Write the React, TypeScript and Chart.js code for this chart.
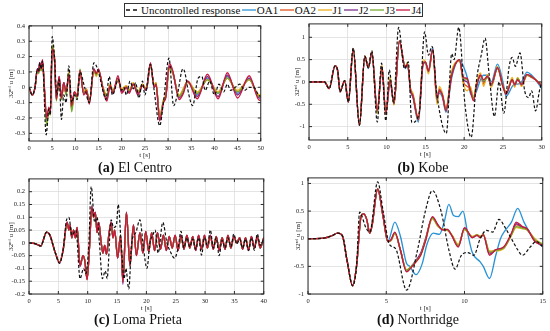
import React, { useEffect, useRef } from 'react';
import { Chart, registerables } from 'chart.js';

Chart.register(...registerables);

const SERIES = ['Uncontrolled response', 'OA1', 'OA2', 'J1', 'J2', 'J3', 'J4'];
const COLORS = ['#111111', '#2a93d5', '#e2531e', '#eeb120', '#7e2f8e', '#77ac30', '#c8183e'];
const DRAW_ORDER = [0, 6, 5, 4, 3, 2, 1];

// ---------- (a) El Centro ----------
const aXTicks = [0, 5, 10, 15, 20, 25, 30, 35, 40, 45, 50];
const aYTicks = [-0.3, -0.2, -0.1, 0, 0.1, 0.2, 0.3, 0.4];
const aT = [0, 0.7, 1.3, 1.8, 2.1, 2.3, 2.6, 2.9, 3.4, 3.8, 4.3, 4.6, 5.0, 5.5, 5.9, 6.5, 7.0, 7.5, 8.0, 8.6, 9.2, 9.8, 10.4, 11.0, 11.8, 12.4, 13.0, 14.0, 14.5, 15.0, 16.0, 16.8, 17.5, 18.1, 19.2, 20.0, 21.0, 21.6, 22.5, 23.5, 24.5, 25.3, 26.2, 27.0, 27.4, 28.2, 29.0, 29.5, 30.3, 31.0, 32.4, 33.3, 34.2, 36.3, 38.5, 40.8, 42.8, 45.0, 47.5, 49.7, 50];
const aJ4 = [0, -0.05, 0.0, 0.12, 0.1, 0.16, 0.12, 0.18, -0.04, -0.2, -0.13, -0.17, 0.25, 0.18, -0.08, 0.07, -0.07, 0.03, -0.03, 0.08, -0.12, -0.03, -0.06, 0.11, -0.05, -0.02, -0.11, 0.12, 0.09, 0.12, -0.02, -0.09, 0.01, -0.04, 0.075, -0.04, 0.0, -0.04, 0.02, -0.05, 0.01, -0.02, 0.16, 0.0, 0.02, -0.22, -0.1, -0.07, 0.155, 0.11, -0.08, -0.04, 0.04, -0.075, 0.085, -0.075, 0.095, -0.07, 0.075, -0.085, -0.08];
const aJ3 = [0, -0.05, 0.0, 0.11, 0.09, 0.15, 0.11, 0.16, -0.06, -0.25, -0.15, -0.18, 0.27, 0.19, -0.09, 0.06, -0.08, 0.02, -0.05, 0.09, -0.16, -0.04, -0.07, 0.12, -0.04, -0.02, -0.1, 0.11, 0.08, 0.11, -0.01, -0.06, 0.01, -0.03, 0.05, -0.02, 0.0, -0.02, 0.02, -0.03, 0.01, -0.01, 0.15, 0.01, 0.02, -0.19, -0.09, -0.06, 0.12, 0.1, -0.06, -0.02, 0.03, -0.04, 0.05, -0.04, 0.06, -0.03, 0.05, -0.06, -0.06];
const aOA2 = [0, -0.05, 0.0, 0.11, 0.1, 0.15, 0.11, 0.17, -0.05, -0.23, -0.14, -0.17, 0.26, 0.19, -0.07, 0.06, -0.07, 0.03, -0.04, 0.09, -0.14, -0.03, -0.05, 0.11, -0.04, -0.01, -0.1, 0.11, 0.08, 0.11, -0.01, -0.06, 0.02, -0.03, 0.05, -0.02, 0.01, -0.02, 0.02, -0.03, 0.02, -0.01, 0.15, 0.01, 0.03, -0.2, -0.09, -0.05, 0.13, 0.1, -0.06, -0.01, 0.04, -0.04, 0.05, -0.03, 0.06, -0.03, 0.05, -0.06, -0.05];
const aJ1 = [0, -0.05, 0.0, 0.11, 0.1, 0.15, 0.11, 0.17, -0.06, -0.24, -0.14, -0.18, 0.27, 0.2, -0.06, 0.05, -0.08, 0.02, -0.04, 0.1, -0.15, -0.03, -0.05, 0.11, -0.03, -0.01, -0.09, 0.11, 0.07, 0.1, 0.0, -0.05, 0.02, -0.02, 0.05, -0.01, 0.01, -0.02, 0.03, -0.03, 0.02, -0.01, 0.14, 0.02, 0.03, -0.19, -0.08, -0.05, 0.12, 0.09, -0.05, -0.01, 0.04, -0.03, 0.05, -0.03, 0.06, -0.02, 0.05, -0.05, -0.05];
const aJ2 = [0, -0.05, 0.0, 0.12, 0.1, 0.16, 0.12, 0.17, -0.05, -0.22, -0.14, -0.17, 0.25, 0.18, -0.08, 0.07, -0.07, 0.03, -0.04, 0.08, -0.13, -0.03, -0.06, 0.11, -0.04, -0.02, -0.1, 0.12, 0.09, 0.11, -0.01, -0.07, 0.01, -0.03, 0.06, -0.03, 0.0, -0.03, 0.02, -0.04, 0.01, -0.02, 0.15, 0.0, 0.02, -0.21, -0.1, -0.06, 0.14, 0.1, -0.07, -0.03, 0.04, -0.06, 0.07, -0.06, 0.08, -0.05, 0.06, -0.07, -0.07];
const aOA1 = [0, -0.05, 0.0, 0.12, 0.1, 0.16, 0.12, 0.17, -0.05, -0.23, -0.14, -0.17, 0.26, 0.18, -0.07, 0.06, -0.07, 0.03, -0.04, 0.08, -0.14, -0.03, -0.06, 0.11, -0.04, -0.02, -0.1, 0.11, 0.09, 0.11, -0.01, -0.06, 0.01, -0.03, 0.06, -0.03, 0.0, -0.03, 0.02, -0.04, 0.01, -0.02, 0.15, 0.0, 0.02, -0.2, -0.09, -0.06, 0.13, 0.1, -0.06, -0.02, 0.04, -0.05, 0.06, -0.04, 0.07, -0.04, 0.06, -0.06, -0.06];
const aTu = [0, 0.7, 1.3, 1.8, 2.1, 2.3, 2.6, 2.9, 3.7, 4.3, 4.6, 5.0, 5.5, 6.0, 6.5, 7.0, 7.5, 8.0, 8.6, 9.2, 9.8, 10.4, 11.0, 12.0, 13.0, 14.0, 15.0, 16.0, 16.6, 17.3, 18.0, 19.3, 20.0, 20.5, 21.0, 21.8, 22.5, 23.0, 23.7, 24.5, 25.0, 26.2, 27.0, 28.2, 29.0, 30.2, 31.2, 32.0, 33.2, 33.6, 34.5, 35.3, 36.5, 37.3, 38.0, 39.0, 40.0, 41.0, 42.0, 42.8, 43.5, 44.5, 45.5, 46.5, 47.5, 48.5, 49.5, 50];
const aUnc = [0, -0.05, 0.0, 0.12, 0.1, 0.16, 0.12, 0.17, -0.31, -0.14, -0.18, 0.33, 0.2, -0.05, 0.05, -0.21, -0.05, -0.1, 0.14, -0.1, -0.05, -0.08, 0.1, 0.0, -0.1, 0.16, 0.1, -0.03, -0.08, 0.07, -0.05, 0.05, -0.02, 0.0, -0.05, 0.04, -0.01, 0.03, -0.07, 0.04, -0.05, 0.15, -0.02, -0.25, -0.1, 0.19, -0.12, -0.05, 0.12, 0.1, -0.05, -0.12, 0.06, 0.07, -0.02, 0.04, -0.05, 0.02, -0.03, 0.02, -0.02, 0.0, 0.02, -0.02, 0.0, 0.0, -0.05, -0.06];

// ---------- (b) Kobe ----------
const bXTicks = [0, 5, 10, 15, 20, 25, 30];
const bYTicks = [-1, -0.5, 0, 0.5, 1];
const bT = [0, 2.0, 2.6, 3.35, 3.7, 4.0, 4.6, 5.07, 5.7, 6.5, 7.2, 7.65, 8.1, 8.8, 9.4, 9.9, 10.45, 10.95, 11.65, 12.4, 12.7, 13.1, 13.4, 14.1, 14.7, 15.0, 15.4, 15.95, 16.5, 16.8, 17.2, 17.65, 18.4, 19.4, 19.9, 20.4, 20.8, 21.2, 21.6, 22.1, 22.5, 23.0, 23.5, 24.3, 25.0, 25.4, 26.2, 26.5, 26.9, 27.4, 28.1, 28.7, 29.2, 30];
const bJ4 = [0, 0, -0.15, 0.36, 0.25, -0.22, 0.03, -0.45, 0.74, -0.97, 0.58, 0.32, 0.66, -0.63, 0.33, -0.7, 0.03, -0.48, 0.92, 0.32, 0.4, -0.2, -0.33, -0.85, 0.4, 0.45, 0.25, 0.73, -0.35, -0.2, -0.3, -0.65, 0.15, 0.5, 0.1, 0.08, -0.2, -0.42, -0.1, 0.15, 0.05, 0.12, -0.05, 0.32, -0.1, -0.28, 0.05, -0.05, 0.05, -0.05, 0.17, 0.12, 0.05, -0.1];
const bOA1 = [0, 0, -0.15, 0.36, 0.25, -0.22, 0.03, -0.45, 0.74, -0.97, 0.57, 0.3, 0.65, -0.68, 0.3, -0.72, 0.0, -0.5, 0.9, 0.3, 0.38, -0.22, -0.35, -0.9, 0.38, 0.44, 0.27, 0.78, -0.4, -0.25, -0.35, -0.68, 0.1, 0.5, 0.35, 0.1, -0.25, -0.33, -0.2, 0.05, 0.15, 0.15, 0.0, 0.4, 0.0, -0.32, -0.1, -0.05, -0.05, 0.0, 0.22, 0.15, 0.05, -0.15];
const bOA2 = [0, 0, -0.15, 0.36, 0.25, -0.22, 0.03, -0.45, 0.74, -0.97, 0.58, 0.32, 0.66, -0.68, 0.35, -0.72, 0.08, -0.5, 0.92, 0.33, 0.42, -0.18, -0.3, -0.85, 0.45, 0.45, 0.22, 0.72, -0.45, -0.15, -0.3, -0.6, 0.2, 0.48, 0.0, -0.1, -0.15, -0.35, -0.05, 0.15, -0.05, 0.15, -0.08, 0.3, -0.1, -0.22, 0.05, -0.1, 0.08, -0.08, 0.15, 0.1, 0.05, -0.08];
const bJ1 = [0, 0, -0.15, 0.36, 0.25, -0.22, 0.03, -0.45, 0.74, -0.97, 0.58, 0.33, 0.67, -0.7, 0.38, -0.73, 0.12, -0.52, 0.92, 0.35, 0.43, -0.15, -0.25, -0.82, 0.5, 0.45, 0.18, 0.72, -0.5, -0.1, -0.25, -0.58, 0.25, 0.47, -0.05, -0.2, -0.1, -0.35, 0.0, 0.2, -0.1, 0.17, -0.12, 0.35, -0.12, -0.25, 0.1, -0.12, 0.1, -0.1, 0.15, 0.1, 0.05, -0.05];
const bJ2 = [0, 0, -0.15, 0.36, 0.25, -0.22, 0.03, -0.45, 0.74, -0.97, 0.58, 0.32, 0.66, -0.66, 0.34, -0.71, 0.05, -0.49, 0.92, 0.33, 0.41, -0.19, -0.3, -0.84, 0.42, 0.44, 0.24, 0.73, -0.4, -0.18, -0.3, -0.62, 0.18, 0.49, 0.05, 0.0, -0.18, -0.38, -0.08, 0.15, 0.0, 0.13, -0.07, 0.32, -0.1, -0.26, 0.05, -0.07, 0.06, -0.06, 0.16, 0.11, 0.05, -0.08];
const bJ3 = [0, 0, -0.15, 0.36, 0.25, -0.22, 0.03, -0.45, 0.74, -0.97, 0.58, 0.32, 0.66, -0.65, 0.34, -0.7, 0.05, -0.49, 0.92, 0.33, 0.41, -0.2, -0.32, -0.85, 0.42, 0.44, 0.25, 0.72, -0.38, -0.2, -0.3, -0.63, 0.17, 0.5, 0.08, 0.05, -0.18, -0.38, -0.08, 0.13, 0.02, 0.1, -0.06, 0.3, -0.08, -0.25, 0.05, -0.05, 0.08, -0.05, 0.15, 0.12, 0.05, -0.1];
const bTu = [0, 2.0, 2.6, 3.35, 3.7, 4.0, 4.6, 5.07, 5.7, 6.5, 7.2, 7.65, 8.1, 8.8, 9.35, 9.9, 10.35, 10.9, 11.55, 12.3, 12.8, 13.25, 14.2, 14.9, 15.4, 15.85, 16.5, 17.7, 18.4, 18.7, 19.3, 20.1, 20.9, 21.6, 22.2, 22.7, 23.2, 23.9, 24.5, 25.1, 25.8, 26.2, 26.6, 27.2, 27.8, 28.3, 28.7, 29.2, 29.7, 30];
const bUnc = [0, 0, -0.15, 0.36, 0.25, -0.22, 0.03, -0.45, 0.76, -0.97, 0.58, 0.32, 0.7, -0.9, 0.42, -0.87, 0.27, -0.45, 1.22, 0.3, 0.45, -0.91, -0.7, 1.12, 0.6, 0.8, -0.3, -1.15, 0.63, 0.5, 1.22, -0.5, -1.24, 0.05, 0.6, 0.98, 0.2, -0.77, 0.0, -0.7, 0.35, 0.55, 0.35, 0.65, -0.2, -0.35, -0.2, -0.65, -0.2, 0.0];

// ---------- (c) Loma Prieta ----------
const cXTicks = [0, 5, 10, 15, 20, 25, 30, 35, 40];
const cYTicks = [-0.2, -0.15, -0.1, -0.05, 0, 0.05, 0.1, 0.15, 0.2];
const cT = [0, 1.0, 2.0, 3.0, 3.5, 4.5, 5.2, 5.8, 6.5, 6.8, 7.0, 7.3, 7.6, 7.9, 8.2, 8.7, 9.2, 9.5, 9.9, 10.3, 10.7, 11.0, 11.3, 11.6, 11.9, 12.3, 12.6, 12.9, 13.2, 13.6, 14.0, 14.3, 14.6, 15.1, 15.6, 16.0, 16.6, 17.2, 17.8, 18.3, 18.9, 19.4, 19.9, 20.4, 20.9, 21.4, 21.9, 22.4, 22.9, 23.4, 23.9, 24.4, 24.9, 25.4, 25.9, 26.4, 26.9, 27.4, 27.9, 28.4, 28.9, 29.4, 29.9, 30.4, 30.9, 31.4, 31.9, 32.4, 32.9, 33.4, 33.9, 34.4, 34.9, 35.4, 35.9, 36.4, 36.9, 37.4, 37.9, 38.4, 38.9, 39.4, 40];
const cJ4 = [0, -0.003, -0.012, 0.042, 0.033, -0.04, -0.077, -0.03, 0.08, 0.05, 0.07, 0.02, 0.05, 0.02, 0.06, -0.09, -0.05, -0.07, -0.145, -0.02, 0.14, 0.1, 0.12, 0.04, 0.08, 0.0, -0.04, -0.01, -0.045, 0.03, 0.08, 0.02, 0.05, -0.06, 0.03, -0.155, 0.12, -0.09, 0.07, -0.05, 0.04, -0.04, 0.045, -0.035, 0.04, -0.03, 0.04, -0.025, 0.03, -0.03, 0.025, -0.02, 0.03, -0.03, 0.03, -0.025, 0.03, -0.02, 0.025, -0.03, 0.03, -0.025, 0.03, -0.02, 0.03, -0.025, 0.025, -0.03, 0.02, -0.025, 0.03, -0.02, 0.025, 0.0, 0.02, -0.025, 0.02, -0.03, 0.025, -0.02, 0.025, -0.02, 0.02];
const cJ2 = [0, -0.003, -0.012, 0.042, 0.033, -0.04, -0.078, -0.03, 0.082, 0.05, 0.07, 0.02, 0.05, 0.02, 0.06, -0.092, -0.05, -0.07, -0.14, -0.02, 0.145, 0.1, 0.12, 0.04, 0.08, 0.0, -0.04, -0.01, -0.045, 0.03, 0.082, 0.02, 0.05, -0.06, 0.03, -0.162, 0.12, -0.09, 0.07, -0.05, 0.04, -0.04, 0.045, -0.035, 0.04, -0.03, 0.04, -0.025, 0.03, -0.03, 0.025, -0.02, 0.03, -0.03, 0.03, -0.025, 0.03, -0.02, 0.025, -0.03, 0.03, -0.025, 0.03, -0.02, 0.03, -0.025, 0.025, -0.03, 0.02, -0.025, 0.03, -0.02, 0.025, 0.0, 0.02, -0.025, 0.02, -0.03, 0.025, -0.02, 0.025, -0.02, 0.02];
const cCtrl = [0, -0.003, -0.012, 0.042, 0.033, -0.04, -0.076, -0.03, 0.078, 0.05, 0.068, 0.02, 0.05, 0.02, 0.058, -0.088, -0.05, -0.068, -0.142, -0.02, 0.138, 0.1, 0.118, 0.04, 0.078, 0.0, -0.04, -0.01, -0.044, 0.03, 0.078, 0.02, 0.05, -0.058, 0.03, -0.15, 0.118, -0.088, 0.068, -0.048, 0.04, -0.038, 0.044, -0.034, 0.04, -0.03, 0.038, -0.025, 0.03, -0.028, 0.025, -0.02, 0.028, -0.028, 0.028, -0.024, 0.028, -0.02, 0.024, -0.028, 0.028, -0.024, 0.028, -0.02, 0.028, -0.024, 0.024, -0.028, 0.02, -0.024, 0.028, -0.02, 0.024, 0.0, 0.02, -0.024, 0.02, -0.028, 0.024, -0.02, 0.024, -0.02, 0.02];
const cTu = [0, 1.0, 2.0, 3.0, 3.5, 4.5, 5.2, 5.8, 6.4, 6.8, 7.3, 8.0, 8.7, 9.3, 9.7, 10.2, 10.6, 11.2, 11.6, 12.0, 12.5, 13.0, 13.3, 14.0, 14.4, 14.9, 15.2, 15.7, 16.2, 16.5, 17.0, 17.5, 18.2, 18.9, 19.5, 20.1, 20.6, 21.1, 21.5, 22.0, 22.8, 23.5, 24.0, 24.8, 25.4, 25.9, 26.4, 26.9, 27.4, 27.9, 28.4, 28.9, 29.4, 29.9, 30.4, 30.9, 31.4, 31.9, 32.4, 32.9, 33.4, 33.9, 34.4, 34.9, 35.4, 35.9, 36.4, 36.9, 37.4, 37.9, 38.4, 38.9, 39.4, 40];
const cUnc = [0, -0.003, -0.012, 0.042, 0.033, -0.04, -0.08, -0.03, 0.09, 0.1, 0.03, 0.05, -0.14, -0.1, -0.12, 0.0, 0.22, 0.08, 0.1, 0.0, -0.14, -0.11, -0.14, 0.09, 0.06, 0.07, 0.15, 0.0, -0.14, -0.1, -0.18, 0.0, 0.04, 0.09, -0.02, -0.1, 0.0, 0.03, 0.05, -0.04, 0.08, 0.0, -0.03, -0.06, -0.02, 0.045, -0.02, 0.02, -0.015, 0.015, -0.025, 0.02, -0.048, 0.02, -0.01, 0.05, -0.02, 0.02, -0.05, 0.01, -0.02, 0.02, -0.015, 0.035, -0.005, 0.015, -0.02, 0.015, -0.03, 0.02, -0.03, 0.035, -0.01, 0.015];

// ---------- (d) Northridge ----------
const dXTicks = [0, 5, 10, 15];
const dYTicks = [-1, -0.5, 0, 0.5, 1];
const dT = [0, 1.0, 1.5, 1.9, 2.2, 2.5, 2.85, 3.1, 3.4, 3.55, 3.75, 3.95, 4.1, 4.45, 4.8, 5.1, 5.3, 5.55, 5.9, 6.3, 6.6, 6.9, 7.2, 7.5, 7.95, 8.3, 8.6, 8.9, 9.2, 9.6, 10.0, 10.5, 10.8, 11.0, 11.2, 11.6, 12.0, 12.5, 13.0, 13.3, 13.7, 14.0, 14.5, 15];
const dJ4 = [0, 0.01, 0.05, 0.1, 0.05, -0.4, -0.85, -0.5, 0.42, 0.45, 0.35, 0.1, 0.25, 0.9, 0.4, -0.05, -0.02, 0.12, -0.2, -0.6, -0.52, -0.42, -0.3, -0.05, 0.4, 0.25, 0.16, 0.17, 0.05, -0.15, 0.2, 0.02, 0.06, 0.02, 0.07, -0.3, -0.2, -0.15, 0.1, 0.3, 0.22, 0.18, -0.05, -0.12];
const dOA2 = [0, 0.01, 0.05, 0.1, 0.05, -0.4, -0.85, -0.5, 0.42, 0.45, 0.35, 0.1, 0.25, 0.9, 0.4, -0.05, -0.03, 0.1, -0.2, -0.58, -0.5, -0.4, -0.28, -0.02, 0.38, 0.24, 0.17, 0.16, 0.06, -0.12, 0.18, 0.03, 0.07, 0.04, 0.08, -0.25, -0.2, -0.17, 0.08, 0.25, 0.2, 0.17, -0.03, -0.1];
const dJ1 = [0, 0.01, 0.05, 0.1, 0.05, -0.4, -0.85, -0.5, 0.42, 0.45, 0.35, 0.1, 0.25, 0.9, 0.4, -0.05, -0.04, 0.09, -0.2, -0.56, -0.5, -0.42, -0.3, -0.05, 0.36, 0.22, 0.17, 0.15, 0.07, -0.1, 0.16, 0.04, 0.07, 0.05, 0.06, -0.22, -0.22, -0.18, 0.06, 0.2, 0.18, 0.16, 0.0, -0.1];
const dJ2 = [0, 0.01, 0.05, 0.1, 0.05, -0.4, -0.85, -0.5, 0.42, 0.45, 0.35, 0.1, 0.25, 0.9, 0.4, -0.05, -0.02, 0.11, -0.2, -0.59, -0.5, -0.39, -0.26, -0.01, 0.39, 0.25, 0.16, 0.17, 0.05, -0.14, 0.19, 0.02, 0.06, 0.03, 0.07, -0.28, -0.2, -0.16, 0.09, 0.27, 0.21, 0.17, -0.04, -0.11];
const dJ3 = [0, 0.01, 0.05, 0.1, 0.05, -0.4, -0.85, -0.5, 0.42, 0.45, 0.35, 0.1, 0.25, 0.9, 0.4, -0.05, -0.03, 0.1, -0.2, -0.57, -0.5, -0.41, -0.29, -0.03, 0.37, 0.23, 0.17, 0.16, 0.06, -0.12, 0.17, 0.03, 0.07, 0.04, 0.07, -0.24, -0.21, -0.17, 0.07, 0.22, 0.19, 0.16, -0.02, -0.1];
const dTb = [0, 1.0, 1.5, 1.9, 2.2, 2.5, 2.85, 3.1, 3.4, 3.55, 3.75, 3.95, 4.1, 4.45, 4.8, 5.1, 5.55, 5.9, 6.3, 6.5, 6.9, 7.3, 7.6, 8.0, 8.4, 8.7, 9.0, 9.3, 9.6, 9.9, 10.2, 10.5, 11.0, 11.2, 11.6, 12.0, 12.3, 12.6, 13.0, 13.4, 13.8, 14.2, 14.6, 14.9, 15];
const dOA1 = [0, 0.01, 0.05, 0.1, 0.05, -0.4, -0.85, -0.5, 0.42, 0.45, 0.35, 0.1, 0.25, 0.9, 0.4, -0.05, 0.3, 0.05, -0.45, -0.5, -0.65, -0.45, -0.1, 0.1, 0.08, 0.3, 0.62, 0.42, 0.4, 0.5, 0.1, -0.25, -0.42, -0.5, -0.72, -0.3, 0.0, 0.15, 0.3, 0.55, 0.3, 0.1, -0.05, -0.12, -0.1];
const dTu = [0, 1.0, 1.5, 1.9, 2.2, 2.5, 2.85, 3.1, 3.3, 3.7, 3.95, 4.45, 4.8, 5.2, 5.6, 6.3, 7.0, 7.5, 7.95, 8.5, 9.0, 9.4, 9.8, 10.2, 10.6, 11.0, 11.4, 11.8, 12.2, 12.6, 13.0, 13.4, 13.7, 14.2, 14.6, 15];
const dUnc = [0, 0.01, 0.05, 0.1, 0.05, -0.4, -0.85, -0.5, 0.48, 0.2, 0.12, 1.03, 0.5, -0.1, -0.18, -0.93, -0.2, 0.5, 0.87, 0.5, -0.2, -0.55, -0.3, -0.25, -0.3, 0.0, 0.15, 0.12, 0.35, 0.2, 0.0, -0.2, -0.3, -0.15, -0.05, -0.15];

type Line = { t: number[]; v: number[] };
type PanelProps = {
  area: number[];
  xMax: number;
  yMin: number;
  yMax: number;
  xTicks: number[];
  yTicks: number[];
  lines: Line[];
  yTitleX: number;
};

const ML = 34;
const MT = 6;
const MR = 6;
const MB = 22;
const FONT = '"Liberation Serif", "Times New Roman", serif';

const framePlugin = {
  id: 'frame',
  afterDatasetsDraw(chart: any) {
    const { ctx, chartArea, scales } = chart;
    const { left, right, top, bottom } = chartArea;
    ctx.save();
    ctx.strokeStyle = '#2b2b2b';
    ctx.lineWidth = 1;
    ctx.strokeRect(left, top, right - left, bottom - top);
    ctx.beginPath();
    scales.x.ticks.forEach((tk: any) => {
      const px = scales.x.getPixelForValue(tk.value);
      ctx.moveTo(px, bottom);
      ctx.lineTo(px, bottom - 3);
      ctx.moveTo(px, top);
      ctx.lineTo(px, top + 3);
    });
    scales.y.ticks.forEach((tk: any) => {
      const py = scales.y.getPixelForValue(tk.value);
      ctx.moveTo(left, py);
      ctx.lineTo(left + 3, py);
      ctx.moveTo(right, py);
      ctx.lineTo(right - 3, py);
    });
    ctx.stroke();
    ctx.restore();
  },
};

function ChartPanel(p: PanelProps) {
  const ref = useRef<HTMLCanvasElement>(null);
  const [l, t, r, b] = p.area;
  const cw = r - l + ML + MR;
  const ch = b - t + MT + MB;
  const cl = l - ML;
  const ct = t - MT;
  useEffect(() => {
    const font = { family: FONT, size: 6.5 };
    const tfont = { family: FONT, size: 7 };
    const chart = new Chart(ref.current as HTMLCanvasElement, {
      type: 'line',
      data: {
        datasets: p.lines.map((ln, i) => ({
          label: SERIES[i],
          data: ln.t.map((x, k) => ({ x, y: ln.v[k] })),
          borderColor: COLORS[i],
          backgroundColor: COLORS[i],
          borderWidth: i === 0 ? 1.2 : 1.35,
          borderDash: i === 0 ? [3, 2] : [],
          pointRadius: 0,
          cubicInterpolationMode: 'monotone',
          order: DRAW_ORDER[i],
          fill: false,
        })),
      },
      options: {
        animation: false,
        responsive: false,
        maintainAspectRatio: false,
        events: [],
        layout: { padding: { left: 0, top: MT, right: MR, bottom: 0 } },
        plugins: { legend: { display: false }, tooltip: { enabled: false } },
        scales: {
          x: {
            type: 'linear',
            bounds: 'data',
            min: 0,
            max: p.xMax,
            afterBuildTicks: (s: any) => {
              s.ticks = p.xTicks.map((value) => ({ value }));
            },
            afterFit: (s: any) => {
              s.height = MB;
            },
            ticks: { font, color: '#222', padding: 3, maxRotation: 0, autoSkip: false, callback: (v: any) => String(v) },
            grid: { color: '#dddddd', lineWidth: 0.8, drawTicks: false },
            border: { display: false },
            title: { display: true, text: 't [s]', font: tfont, color: '#222', padding: { top: 0, bottom: 3.5 } },
          },
          y: {
            type: 'linear',
            bounds: 'data',
            min: p.yMin,
            max: p.yMax,
            afterBuildTicks: (s: any) => {
              s.ticks = p.yTicks.map((value) => ({ value }));
            },
            afterFit: (s: any) => {
              s.width = ML;
            },
            ticks: { font, color: '#222', padding: 4, autoSkip: false, callback: (v: any) => String(v) },
            grid: { color: '#dddddd', lineWidth: 0.8, drawTicks: false },
            border: { display: false },
            title: {
              display: true,
              text: '32ⁿᵈ u [m]',
              font: tfont,
              color: '#222',
              padding: { top: p.yTitleX - cl - 4.2, bottom: 0 },
            },
          },
        },
      },
      plugins: [framePlugin],
    } as any);
    return () => chart.destroy();
  }, []);
  return (
    <canvas
      ref={ref}
      width={cw}
      height={ch}
      style={{ position: 'absolute', left: cl, top: ct, width: cw, height: ch }}
    />
  );
}

function Legend() {
  return (
    <div
      style={{
        position: 'absolute',
        left: 124,
        top: 3,
        height: 14,
        boxSizing: 'border-box',
        border: '1.5px solid #333',
        display: 'flex',
        alignItems: 'center',
        padding: '0 1px',
        fontFamily: FONT,
        fontSize: 11,
        lineHeight: '12px',
        background: '#fff',
        whiteSpace: 'nowrap',
        color: '#111',
        zIndex: 2,
      }}
    >
      {SERIES.map((name, i) => (
        <span key={name} style={{ display: 'flex', alignItems: 'center', marginRight: i === SERIES.length - 1 ? 0 : 1.5 }}>
          <svg width={14} height={8} style={{ display: 'block' }}>
            <line
              x1={0}
              y1={4}
              x2={14}
              y2={4}
              stroke={COLORS[i]}
              strokeWidth={1.3}
              strokeDasharray={i === 0 ? '4 3' : undefined}
            />
          </svg>
          <span style={{ marginLeft: 1 }}>{name}</span>
        </span>
      ))}
    </div>
  );
}

function Caption({ tag, name, cx, cy }: { tag: string; name: string; cx: number; cy: number }) {
  return (
    <div
      style={{
        position: 'absolute',
        left: cx - 100,
        top: cy - 9,
        width: 200,
        height: 18,
        textAlign: 'center',
        fontFamily: FONT,
        fontSize: 14,
        lineHeight: '18px',
        color: '#111',
      }}
    >
      <b>{tag}</b> {name}
    </div>
  );
}

export default function App() {
  return (
    <div style={{ position: 'fixed', left: 0, top: 0, width: 550, height: 331, background: '#fff', overflow: 'hidden' }}>
      <ChartPanel
        area={[29, 24, 261, 141]}
        xMax={50}
        yMin={-0.35}
        yMax={0.4}
        xTicks={aXTicks}
        yTicks={aYTicks}
        yTitleX={11.5}
        lines={[
          { t: aTu, v: aUnc },
          { t: aT, v: aOA1 },
          { t: aT, v: aOA2 },
          { t: aT, v: aJ1 },
          { t: aT, v: aJ2 },
          { t: aT, v: aJ3 },
          { t: aT, v: aJ4 },
        ]}
      />
      <ChartPanel
        area={[309, 22, 542, 140]}
        xMax={30}
        yMin={-1.3}
        yMax={1.3}
        xTicks={bXTicks}
        yTicks={bYTicks}
        yTitleX={297}
        lines={[
          { t: bTu, v: bUnc },
          { t: bT, v: bOA1 },
          { t: bT, v: bOA2 },
          { t: bT, v: bJ1 },
          { t: bT, v: bJ2 },
          { t: bT, v: bJ3 },
          { t: bT, v: bJ4 },
        ]}
      />
      <ChartPanel
        area={[29, 177, 264, 294]}
        xMax={40}
        yMin={-0.2}
        yMax={0.25}
        xTicks={cXTicks}
        yTicks={cYTicks}
        yTitleX={11.5}
        lines={[
          { t: cTu, v: cUnc },
          { t: cT, v: cCtrl },
          { t: cT, v: cCtrl },
          { t: cT, v: cCtrl },
          { t: cT, v: cJ2 },
          { t: cT, v: cCtrl },
          { t: cT, v: cJ4 },
        ]}
      />
      <ChartPanel
        area={[308, 176, 543, 294]}
        xMax={15}
        yMin={-1}
        yMax={1.1}
        xTicks={dXTicks}
        yTicks={dYTicks}
        yTitleX={298}
        lines={[
          { t: dTu, v: dUnc },
          { t: dTb, v: dOA1 },
          { t: dT, v: dOA2 },
          { t: dT, v: dJ1 },
          { t: dT, v: dJ2 },
          { t: dT, v: dJ3 },
          { t: dT, v: dJ4 },
        ]}
      />
      <Legend />
      <Caption tag="(a)" name="El Centro" cx={135} cy={168} />
      <Caption tag="(b)" name="Kobe" cx={423} cy={168} />
      <Caption tag="(c)" name="Loma Prieta" cx={138} cy={320} />
      <Caption tag="(d)" name="Northridge" cx={418} cy={320} />
    </div>
  );
}
